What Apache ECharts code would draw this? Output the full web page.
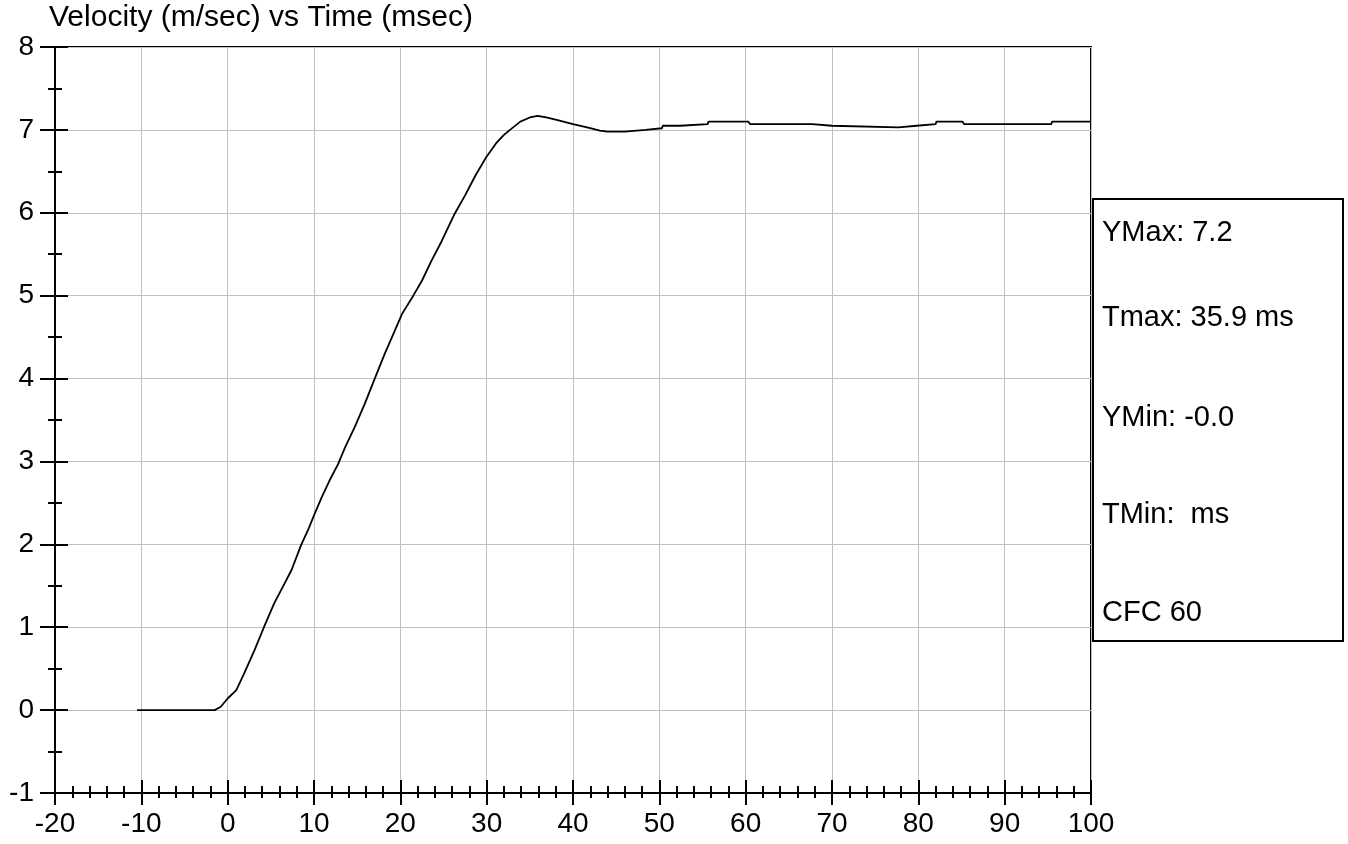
<!DOCTYPE html>
<html>
<head>
<meta charset="utf-8">
<script src="https://cdn.jsdelivr.net/npm/echarts@6/dist/echarts.min.js"></script>
<style>
  html, body { margin: 0; padding: 0; background: #fff; }
  #chart { width: 1348px; height: 844px; }
</style>
</head>
<body>
<div id="chart"></div>
<script>
// time (msec) and velocity (m/sec)
var timeMs = [-10.5, -1.5, -0.8, 0, 1.0, 1.9, 3.1, 4.2, 5.4, 6.4,
  7.4, 8.5, 9.3, 10.0, 10.9, 11.8, 12.8, 13.6, 14.7, 15.9,
  17.0, 18.2, 19.2, 20.2, 21.5, 22.5, 23.6, 24.8, 26.2, 27.5,
  28.7, 30.0, 31.1, 32.0, 32.7, 33.9, 35.0, 35.9, 36.9, 38.1,
  40.0, 42.0, 43.1, 44.0, 46.0, 46.0, 48.4, 48.4, 50.3, 50.4,
  52.4, 52.6, 55.6, 55.7, 60.3, 60.5, 67.7, 67.8, 70.0, 70.1,
  77.7, 77.8, 79.8, 80.0, 82.0, 82.1, 85.1, 85.3, 95.4, 95.5, 100];
var velocity = [0, 0, 0.04, 0.14, 0.24, 0.44, 0.72, 1.0, 1.29, 1.49,
  1.69, 1.99, 2.17, 2.35, 2.57, 2.77, 2.97, 3.17, 3.41, 3.70,
  3.99, 4.30, 4.54, 4.78, 5.0, 5.18, 5.42, 5.66, 5.97, 6.21,
  6.45, 6.68, 6.84, 6.94, 7.0, 7.10, 7.15, 7.17, 7.15, 7.12,
  7.07, 7.02, 6.99, 6.98, 6.98, 7.0, 7.0, 7.02, 7.02, 7.05,
  7.05, 7.07, 7.07, 7.10, 7.10, 7.07, 7.07, 7.05, 7.05, 7.03,
  7.03, 7.05, 7.05, 7.07, 7.07, 7.10, 7.10, 7.07, 7.07, 7.10, 7.10];
var statLines = ['YMax: 7.2', 'Tmax: 35.9 ms', 'YMin: -0.0', 'TMin:  ms', 'CFC 60'];
var statY = [233, 318, 418, 515, 613];

var FONT = 'Liberation Sans, Arial, sans-serif';
var chart = echarts.init(document.getElementById('chart'));

var points = [];
for (var i = 0; i < timeMs.length; i++) {
  points.push([timeMs[i], velocity[i]]);
}

var graphics = [{
  type: 'rect',
  shape: { x: 1093, y: 199, width: 250, height: 442 },
  style: { fill: '#fff', stroke: '#000', lineWidth: 2 }
}];
for (var k = 0; k < statLines.length; k++) {
  graphics.push({
    type: 'text',
    x: 1102,
    y: statY[k],
    style: {
      text: statLines[k],
      fontSize: 29,
      fontFamily: FONT,
      fill: '#000',
      verticalAlign: 'middle'
    }
  });
}

var blackLine = { color: '#000', width: 2 };

var option = {
  animation: false,
  title: {
    text: 'Velocity (m/sec) vs Time (msec)',
    left: 49,
    top: 3,
    padding: 0,
    textStyle: { fontSize: 30, fontWeight: 'normal', color: '#000', fontFamily: FONT }
  },
  grid: {
    left: 55, top: 47, right: 257, bottom: 51,
    show: true, borderColor: '#000', borderWidth: 2,
    outerBoundsMode: 'none'
  },
  xAxis: [{
    type: 'value', position: 'bottom', min: -20, max: 100, interval: 10,
    axisLine: { onZero: false, lineStyle: blackLine },
    axisTick: { show: true, length: 12, lineStyle: blackLine },
    minorTick: { show: true, splitNumber: 5, length: 5, lineStyle: blackLine },
    axisLabel: { fontSize: 28, color: '#000', fontFamily: FONT, margin: 17 },
    splitLine: { show: true, lineStyle: { color: '#c0c0c0', width: 1 } }
  }, {
    type: 'value', position: 'bottom', offset: 0, min: -20, max: 100, interval: 10,
    axisLine: { onZero: false, lineStyle: blackLine },
    axisTick: { show: true, inside: true, length: 13, lineStyle: blackLine },
    minorTick: { show: true, splitNumber: 5, length: 7, lineStyle: blackLine },
    axisLabel: { show: false },
    splitLine: { show: false }
  }],
  yAxis: [{
    type: 'value', position: 'left', min: -1, max: 8, interval: 1,
    axisLine: { show: true, onZero: false, lineStyle: blackLine },
    axisTick: { show: true, length: 15, lineStyle: blackLine },
    minorTick: { show: true, splitNumber: 2, length: 7, lineStyle: blackLine },
    axisLabel: { fontSize: 28, color: '#000', fontFamily: FONT, margin: 21 },
    splitLine: { show: true, lineStyle: { color: '#c0c0c0', width: 1 } }
  }, {
    type: 'value', position: 'left', offset: 0, min: -1, max: 8, interval: 1,
    axisLine: { show: true, onZero: false, lineStyle: blackLine },
    axisTick: { show: true, inside: true, length: 13, lineStyle: blackLine },
    minorTick: { show: true, splitNumber: 2, length: 7, lineStyle: blackLine },
    axisLabel: { show: false },
    splitLine: { show: false }
  }],
  series: [{
    type: 'line',
    data: points,
    showSymbol: false,
    lineStyle: { color: '#000', width: 1.8 },
    z: 5
  }],
  graphic: graphics
};

option && chart.setOption(option);
</script>
</body>
</html>
